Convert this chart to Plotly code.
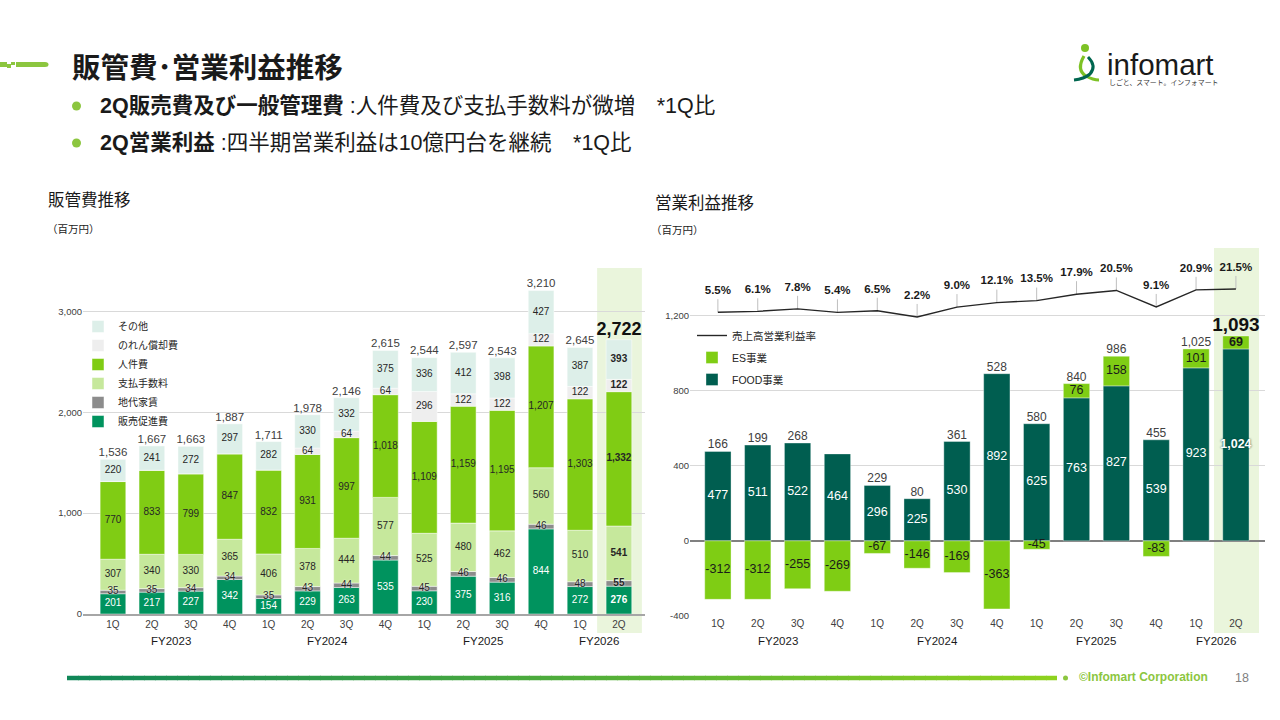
import plotly.graph_objects as go

# ---------------- data ----------------
quarters = ["1Q", "2Q", "3Q", "4Q", "1Q", "2Q", "3Q", "4Q", "1Q", "2Q", "3Q", "4Q", "1Q", "2Q"]
fiscal_years = ["FY2023"] * 4 + ["FY2024"] * 4 + ["FY2025"] * 4 + ["FY2026"] * 2

# 販管費 (百万円)
sga_promo = [201, 217, 227, 342, 154, 229, 263, 535, 230, 375, 316, 844, 272, 276]        # 販売促進費
sga_rent = [35, 35, 34, 34, 35, 43, 44, 44, 45, 46, 46, 46, 48, 55]                      # 地代家賃
sga_fees = [307, 340, 330, 365, 406, 378, 444, 577, 525, 480, 462, 560, 510, 541]        # 支払手数料
sga_personnel = [770, 833, 799, 847, 832, 931, 997, 1018, 1109, 1159, 1195, 1207, 1303, 1332]  # 人件費
sga_goodwill = [0, 0, 0, 0, 0, 64, 64, 64, 296, 122, 122, 122, 122, 122]                 # のれん償却費
sga_other = [220, 241, 272, 297, 282, 330, 332, 375, 336, 412, 398, 427, 387, 393]       # その他
sga_total = [1536, 1667, 1663, 1887, 1711, 1978, 2146, 2615, 2544, 2597, 2543, 3210, 2645, 2722]

# 営業利益 (百万円)
op_food = [477, 511, 522, 464, 296, 225, 530, 892, 625, 763, 827, 539, 923, 1024]        # FOOD事業
op_es = [-312, -312, -255, -269, -67, -146, -169, -363, -45, 76, 158, -83, 101, 69]      # ES事業
op_total = [166, 199, 268, None, 229, 80, 361, 528, 580, 840, 986, 455, 1025, 1093]
op_margin = [5.5, 6.1, 7.8, 5.4, 6.5, 2.2, 9.0, 12.1, 13.5, 17.9, 20.5, 9.1, 20.9, 21.5]  # 売上高営業利益率 (%)

# ---------------- helpers ----------------
W, H = 1280, 720          # design grid (the figure fills the browser window)
FONT = "Liberation Sans, Noto Sans CJK JP, sans-serif"


def px(x):
    return x / W


def py(y):
    return 1 - y / H


idx = list(range(len(quarters)))
last = len(idx) - 1


def fmt(v, i):
    s = f"{v:,}"
    return f"<b>{s}</b>" if i == last else s


fig = go.Figure()

# ---------------- left chart: 販管費推移 ----------------
sga_series = [
    ("販売促進費", sga_promo, "#00935E", "white", "none"),
    ("地代家賃", sga_rent, "#8C8C8C", "#262626", "0px 0px 2px white"),
    ("支払手数料", sga_fees, "#C6E89C", "#262626", "none"),
    ("人件費", sga_personnel, "#80CC14", "#262626", "none"),
    ("のれん償却費", sga_goodwill, "#EEEEEE", "#262626", "none"),
    ("その他", sga_other, "#DDEFE9", "#262626", "none"),
]

base = [0] * len(idx)
label_traces = []
for name, vals, color, tcolor, shadow in sga_series:
    fig.add_trace(go.Bar(
        x=idx, y=vals, name=name, width=0.66,
        marker=dict(color=color, line=dict(color="rgba(255,255,255,0.8)", width=0.6)),
        xaxis="x", yaxis="y", legend="legend", hoverinfo="skip"))
    centers = [b + v / 2 for b, v in zip(base, vals)]
    texts = [fmt(v, i) if v > 0 else "" for i, v in enumerate(vals)]
    label_traces.append(go.Scatter(
        x=idx, y=centers, mode="text", text=texts,
        textfont=dict(size=10, color=tcolor, family=FONT, shadow=shadow),
        showlegend=False, xaxis="x", yaxis="y", cliponaxis=False, hoverinfo="skip"))
    base = [b + v for b, v in zip(base, vals)]

for t in label_traces:
    fig.add_trace(t)

fig.add_trace(go.Scatter(
    x=idx, y=sga_total, mode="text", textposition="top center",
    text=[fmt(v, i) for i, v in enumerate(sga_total)],
    textfont=dict(size=[11.5] * last + [18], color=["#404040"] * last + ["#111111"], family=FONT),
    showlegend=False, xaxis="x", yaxis="y", cliponaxis=False, hoverinfo="skip"))

# ---------------- right chart: 営業利益推移 ----------------
fig.add_trace(go.Bar(
    x=idx, y=op_food, name="FOOD事業", width=0.66, legendrank=3,
    marker=dict(color="#005E50", line=dict(color="rgba(255,255,255,0.6)", width=0.6)),
    xaxis="x2", yaxis="y2", legend="legend2", legendgroup="food", hoverinfo="skip"))
fig.add_trace(go.Bar(
    x=idx, y=op_es, name="ES事業", width=0.66, legendrank=2,
    marker=dict(color="#7FCD14", line=dict(color="rgba(255,255,255,0.6)", width=0.6)),
    xaxis="x2", yaxis="y2", legend="legend2", legendgroup="es", hoverinfo="skip"))

food_centers = [v / 2 for v in op_food]
es_centers = [f + e / 2 if e > 0 else e / 2 for f, e in zip(op_food, op_es)]
fig.add_trace(go.Scatter(
    x=idx, y=food_centers, mode="text", text=[fmt(v, i) for i, v in enumerate(op_food)],
    textfont=dict(size=12.5, color="white", family=FONT,
                  shadow=["none"] * last + ["0px 0px 2px #003D33"]),
    showlegend=False, xaxis="x2", yaxis="y2", cliponaxis=False, hoverinfo="skip"))
fig.add_trace(go.Scatter(
    x=idx, y=es_centers, mode="text", text=[fmt(v, i) for i, v in enumerate(op_es)],
    textfont=dict(size=12.5, color="#1A1A1A", family=FONT),
    showlegend=False, xaxis="x2", yaxis="y2", cliponaxis=False, hoverinfo="skip"))

stack_tops = [f + max(e, 0) for f, e in zip(op_food, op_es)]
fig.add_trace(go.Scatter(
    x=idx, y=stack_tops, mode="text", textposition="top center",
    text=["" if v is None else fmt(v, i) for i, v in enumerate(op_total)],
    textfont=dict(size=[12] * last + [19], color=["#404040"] * last + ["#111111"], family=FONT),
    showlegend=False, xaxis="x2", yaxis="y2", cliponaxis=False, hoverinfo="skip"))

# margin line (secondary axis) with leader lines and labels
lead_x, lead_y = [], []
for i, p in zip(idx, op_margin):
    lead_x += [i, i, None]
    lead_y += [p, p + 9, None]
fig.add_trace(go.Scatter(
    x=lead_x, y=lead_y, mode="lines", line=dict(color="#BFBFBF", width=1),
    showlegend=False, xaxis="x2", yaxis="y3", cliponaxis=False, hoverinfo="skip"))
fig.add_trace(go.Scatter(
    x=idx, y=op_margin, mode="lines", name="売上高営業利益率", legendrank=1,
    line=dict(color="#262626", width=1.4),
    xaxis="x2", yaxis="y3", legend="legend2", legendgroup="margin", cliponaxis=False, hoverinfo="skip"))
fig.add_trace(go.Scatter(
    x=idx, y=[p + 14.5 for p in op_margin], mode="text",
    text=[f"<b>{p:.1f}%</b>" for p in op_margin],
    textfont=dict(size=11.5, color="#1A1A1A", family=FONT),
    showlegend=False, xaxis="x2", yaxis="y3", cliponaxis=False, hoverinfo="skip"))

# ---------------- layout ----------------
tick_font = dict(size=10, color="#404040", family=FONT)

fy_order = []
for fy in fiscal_years:
    if fy not in fy_order:
        fy_order.append(fy)
fy_centers = {fy: sum(i for i in idx if fiscal_years[i] == fy) / fiscal_years.count(fy) for fy in fy_order}

annotations = []
for fy in fy_order:
    for ax in ("x", "x2"):
        annotations.append(dict(x=fy_centers[fy], y=py(641), xref=ax, yref="paper", text=fy,
                                showarrow=False, font=dict(size=11.5, color="#1A1A1A", family=FONT),
                                xanchor="center", yanchor="middle"))


def txt(x, y, text, size, color="#1A1A1A", anchor="left"):
    annotations.append(dict(x=px(x), y=py(y), xref="paper", yref="paper", text=text, showarrow=False,
                            xanchor=anchor, yanchor="middle",
                            font=dict(size=size, color=color, family=FONT)))


txt(70, 68, "<b>販管費･営業利益推移</b>", 28.5)
txt(98, 106, "<b>2Q販売費及び一般管理費</b> :人件費及び支払手数料が微増　*1Q比", 21.5)
txt(98, 143, "<b>2Q営業利益</b> :四半期営業利益は10億円台を継続　*1Q比", 21.5)
txt(46, 200, "販管費推移", 16.5)
txt(45, 229, "（百万円）", 10.5)
txt(653, 203, "営業利益推移", 16.5)
txt(649, 230, "（百万円）", 10.5)
txt(1105, 64, "infomart", 29.5, color="#1A1A1A")
txt(1107, 82, "しごと、スマート。インフォマート", 6.9, color="#333333")
txt(1077, 677, "<b>©Infomart Corporation</b>", 12, color="#8CC63F")
txt(1233, 678, "18", 12.5, color="#7F7F7F")

shapes = []
# highlight columns (latest quarter)
shapes.append(dict(type="rect", xref="x", yref="paper", x0=last - 0.56, x1=last + 0.59,
                   y0=py(633), y1=py(268), fillcolor="#EAF5DC", line=dict(width=0), layer="below"))
shapes.append(dict(type="rect", xref="x2", yref="paper", x0=last - 0.55, x1=last + 0.58,
                   y0=py(633), y1=py(248), fillcolor="#EAF5DC", line=dict(width=0), layer="below"))

# title decoration
LIME = "#8CC63F"
for (x0, x1, y0, y1) in [(0, 7, 62, 67), (7, 11, 64, 68), (11, 15, 62, 65)]:
    shapes.append(dict(type="rect", xref="paper", yref="paper", x0=px(x0), x1=px(x1), y0=py(y1), y1=py(y0),
                       fillcolor=LIME, line=dict(width=0)))
shapes.append(dict(type="path", xref="paper", yref="paper",
                   path=f"M {px(16)},{py(62)} L {px(45)},{py(62)} Q {px(48.5)},{py(62)} {px(48.5)},{py(64.5)} "
                        f"Q {px(48.5)},{py(67)} {px(45)},{py(67)} L {px(16)},{py(67)} Z",
                   fillcolor=LIME, line=dict(width=0)))

# bullets
for yb in (106, 143):
    shapes.append(dict(type="circle", xref="paper", yref="paper", x0=px(72), x1=px(81), y0=py(yb + 4.5),
                       y1=py(yb - 4.5), fillcolor=LIME, line=dict(width=0)))

# logo icon
shapes.append(dict(type="circle", xref="paper", yref="paper", x0=px(1081), x1=px(1089), y0=py(52), y1=py(44),
                   fillcolor="#7DC225", line=dict(width=0)))
shapes.append(dict(type="path", xref="paper", yref="paper",
                   path=f"M {px(1084)},{py(56)} Q {px(1076)},{py(70)} {px(1086)},{py(76)} Q {px(1093)},{py(80)} {px(1099)},{py(80)}",
                   line=dict(color="#7DC225", width=3.2)))
shapes.append(dict(type="path", xref="paper", yref="paper",
                   path=f"M {px(1088)},{py(57)} Q {px(1097)},{py(66)} {px(1090)},{py(74)} Q {px(1084)},{py(79)} {px(1074)},{py(80)}",
                   line=dict(color="#00664F", width=3)))

# footer gradient line
n_seg = 90
x_start, x_end = 67, 1057
c0, c1 = (16, 135, 88), (142, 210, 30)
for k in range(n_seg):
    t = k / (n_seg - 1)
    col = "rgb({},{},{})".format(*[round(a + (b - a) * t) for a, b in zip(c0, c1)])
    xa = x_start + (x_end - x_start) * k / n_seg
    xb = x_start + (x_end - x_start) * (k + 1) / n_seg + 0.8
    shapes.append(dict(type="line", xref="paper", yref="paper", x0=px(xa), x1=px(min(xb, x_end)),
                       y0=py(678), y1=py(678), line=dict(color=col, width=4.5)))
shapes.append(dict(type="circle", xref="paper", yref="paper", x0=px(1063), x1=px(1068), y0=py(680.5), y1=py(675.5),
                   fillcolor=LIME, line=dict(width=0)))

fig.update_layout(
    autosize=True,
    margin=dict(l=0, r=0, t=0, b=0, autoexpand=False),
    paper_bgcolor="white", plot_bgcolor="rgba(0,0,0,0)",
    font=dict(family=FONT, color="#262626"),
    barmode="relative",
    showlegend=True,
    xaxis=dict(domain=[px(83), px(645)], range=[-0.77, 13.67], anchor="y",
               tickmode="array", tickvals=idx, ticktext=quarters, tickfont=tick_font,
               showgrid=False, zeroline=False, showline=True, linecolor="#A6A6A6", linewidth=1.5,
               ticks="", fixedrange=True),
    yaxis=dict(domain=[py(614), py(271)], range=[0, 3400], anchor="x",
               tickmode="array", tickvals=[0, 1000, 2000, 3000],
               ticktext=[f"{v:,}" for v in [0, 1000, 2000, 3000]], tickfont=dict(size=9.5, color="#404040"),
               showgrid=True, gridcolor="#D9D9D9", gridwidth=1, zeroline=False, ticks="", fixedrange=True),
    xaxis2=dict(domain=[px(690), px(1265)], range=[-0.70, 13.73], anchor="y2",
                tickmode="array", tickvals=idx, ticktext=quarters, tickfont=tick_font,
                showgrid=False, zeroline=False, showline=False, ticks="", fixedrange=True),
    yaxis2=dict(domain=[py(616), py(250)], range=[-401, 1552], anchor="x2",
                tickmode="array", tickvals=[-400, 0, 400, 800, 1200],
                ticktext=[f"{v:,}" for v in [-400, 0, 400, 800, 1200]], tickfont=dict(size=9.5, color="#404040"),
                showgrid=True, gridcolor="#D9D9D9", gridwidth=1,
                zeroline=True, zerolinecolor="#808080", zerolinewidth=2, ticks="", fixedrange=True),
    yaxis3=dict(overlaying="y2", anchor="x2", range=[-204.0, 48.4], visible=False, fixedrange=True),
    legend=dict(x=px(78), y=py(312), xanchor="left", yanchor="top", traceorder="reversed",
                font=dict(size=10, color="#262626", family=FONT), bgcolor="rgba(0,0,0,0)",
                itemwidth=30, itemclick=False, itemdoubleclick=False),
    legend2=dict(x=px(692), y=py(321), xanchor="left", yanchor="top", traceorder="grouped",
                 tracegroupgap=3, font=dict(size=10.5, color="#262626", family=FONT),
                 bgcolor="rgba(0,0,0,0)", itemwidth=30, itemclick=False, itemdoubleclick=False),
    annotations=annotations,
    shapes=shapes,
)

fig.write_html(
    "out.html",
    default_width="100vw",
    default_height="100vh",
    config={"displayModeBar": False, "staticPlot": True, "responsive": True},
    post_script=("document.documentElement.style.overflow='hidden';"
                 "document.body.style.margin='0';document.body.style.overflow='hidden';"),
)
